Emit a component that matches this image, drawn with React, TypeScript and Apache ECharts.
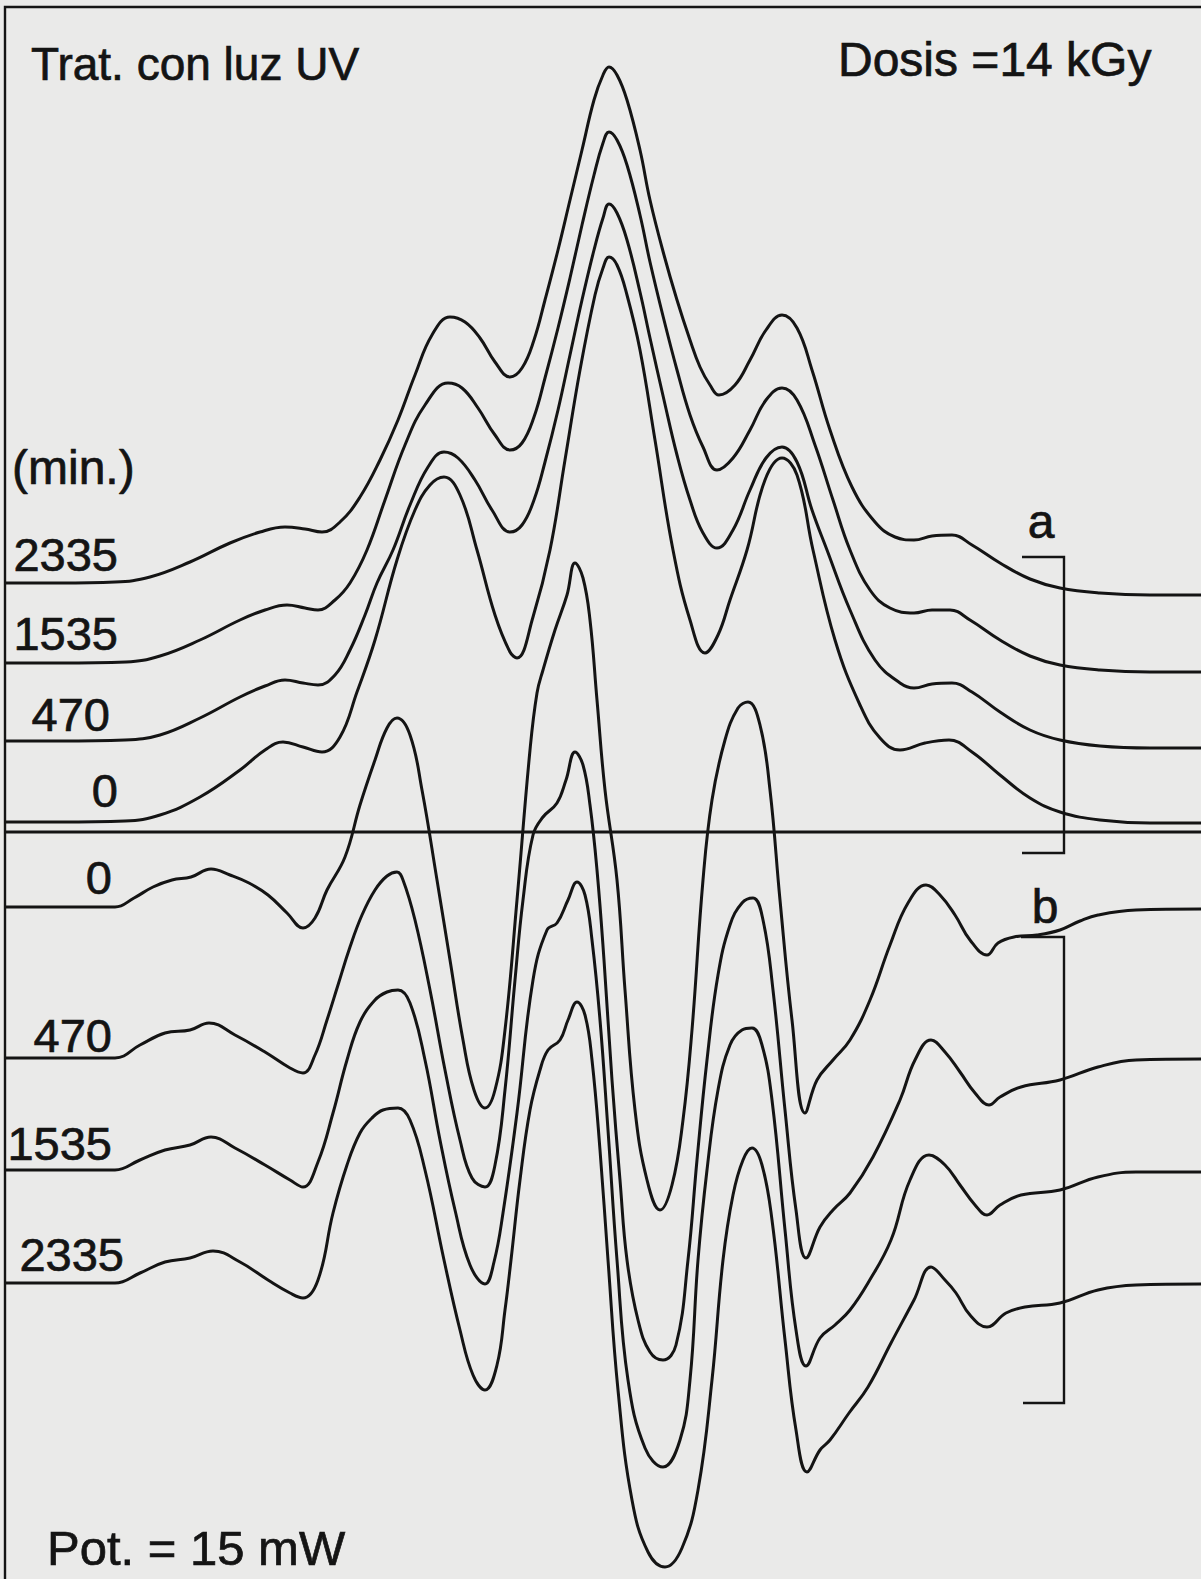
import React, { useEffect, useRef } from "react";
import * as echarts from "echarts";

type Pt = [number, number];

// Recorder traces: [field position, pen deflection] (deflection grows downwards)
// Spectra "a": UV treatment, exposure times in minutes
const specA_2335: Pt[] = [
  [5, 583], [60, 583], [115, 582], [150, 577], [190, 562], [230, 543], [260, 532], [285, 527], [305, 529], [322, 532],
  [340, 522], [360, 497], [380, 460], [398, 420], [415, 375], [432, 335], [450, 317], [465, 322], [480, 338], [495, 362],
  [510, 377], [522, 368], [534, 340], [545, 300], [558, 250], [570, 200], [582, 150], [594, 100], [603, 75], [609, 67],
  [617, 75], [627, 100], [640, 150], [650, 200], [664, 255], [677, 300], [690, 340], [700, 367], [710, 385], [719, 395],
  [735, 385], [750, 360], [766, 330], [782, 315], [797, 328], [812, 370], [830, 430], [852, 487], [875, 522], [895, 537],
  [914, 540], [932, 536], [952, 535], [972, 545], [1000, 563], [1030, 579], [1060, 588], [1100, 593], [1150, 595], [1201, 595],
];
const specA_1535: Pt[] = [
  [5, 663], [60, 663], [126, 662], [160, 656], [200, 640], [240, 620], [265, 610], [287, 605], [305, 608], [318, 610],
  [335, 600], [350, 583], [367, 550], [385, 500], [405, 445], [425, 405], [448, 383], [462, 388], [478, 408], [495, 435],
  [510, 450], [522, 443], [534, 417], [545, 378], [558, 328], [570, 278], [582, 225], [594, 175], [603, 143], [609, 132],
  [617, 140], [627, 165], [640, 215], [650, 262], [664, 320], [677, 370], [690, 415], [703, 447], [717, 470], [733, 458],
  [750, 430], [766, 400], [782, 388], [797, 400], [815, 445], [833, 500], [850, 550], [870, 590], [890, 608], [914, 613],
  [932, 610], [950, 610], [970, 620], [1000, 640], [1030, 656], [1060, 665], [1100, 670], [1150, 672], [1201, 672],
];
const specA_470: Pt[] = [
  [5, 741], [60, 741], [125, 740], [160, 735], [200, 718], [240, 697], [265, 686], [285, 680], [303, 683], [318, 685],
  [335, 675], [350, 650], [365, 615], [377, 583], [393, 550], [410, 505], [428, 467], [444, 452], [458, 458], [475, 480],
  [492, 510], [510, 532], [522, 525], [534, 500], [545, 462], [558, 410], [570, 355], [582, 300], [594, 250], [603, 218],
  [609, 204], [617, 213], [627, 240], [640, 292], [650, 338], [664, 400], [677, 455], [690, 500], [703, 533], [717, 548],
  [733, 530], [750, 490], [766, 458], [782, 447], [797, 462], [812, 510], [827, 550], [850, 610], [875, 660], [900, 683],
  [914, 688], [932, 684], [952, 683], [972, 692], [1000, 712], [1030, 730], [1060, 740], [1100, 746], [1150, 748], [1201, 748],
];
const specA_0: Pt[] = [
  [5, 822], [60, 822], [125, 821], [160, 815], [200, 797], [240, 770], [265, 750], [283, 742], [303, 747], [322, 752],
  [340, 737], [357, 692], [375, 640], [397, 560], [415, 510], [430, 485], [444, 477], [460, 495], [477, 550], [495, 615],
  [510, 652], [517, 658], [533, 617], [550, 550], [565, 460], [580, 370], [595, 295], [603, 268], [609, 257], [617, 265],
  [627, 295], [640, 350], [655, 440], [673, 550], [690, 620], [705, 653], [718, 635], [730, 600], [747, 550], [765, 480],
  [782, 458], [797, 475], [813, 550], [835, 640], [860, 705], [880, 738], [900, 750], [925, 743], [949, 740], [972, 752],
  [1000, 775], [1030, 798], [1060, 812], [1100, 820], [1150, 823], [1201, 823],
];

// Spectra "b"
const specB_0: Pt[] = [
  [5, 907], [60, 907], [115, 907], [134, 898], [153, 887], [172, 880], [191, 877], [211, 869], [230, 875], [249, 883],
  [268, 895], [287, 913], [303, 928], [315, 918], [327, 890], [345, 857], [360, 805], [375, 760], [387, 728], [397, 718],
  [410, 735], [422, 790], [437, 880], [450, 960], [463, 1040], [474, 1090], [485, 1108], [495, 1090], [505, 1030], [517, 900],
  [530, 750], [537, 693], [543, 670], [555, 630], [567, 595], [575, 563], [583, 578], [590, 620], [597, 700], [605, 790],
  [617, 880], [625, 990], [635, 1110], [647, 1180], [660, 1210], [672, 1185], [683, 1120], [692, 1030], [703, 880], [712, 800],
  [725, 740], [738, 708], [748, 702], [760, 725], [770, 790], [780, 900], [792, 1020], [805, 1113], [817, 1080], [833, 1060],
  [850, 1040], [870, 1000], [890, 945], [908, 903], [926, 885], [940, 895], [955, 915], [970, 940], [987, 955], [998, 943],
  [1014, 937], [1037, 935], [1060, 930], [1080, 921], [1098, 915], [1136, 910], [1201, 909],
];
const specB_470: Pt[] = [
  [5, 1058], [60, 1058], [115, 1058], [140, 1045], [165, 1033], [190, 1030], [209, 1023], [235, 1035], [265, 1052], [290, 1068],
  [303, 1073], [315, 1055], [327, 1020], [338, 985], [350, 947], [362, 915], [375, 890], [387, 876], [397, 872], [403, 880],
  [415, 920], [430, 990], [445, 1070], [460, 1140], [472, 1178], [485, 1187], [495, 1165], [505, 1090], [515, 980], [523, 900],
  [533, 835], [543, 817], [557, 803], [566, 780], [575, 752], [583, 765], [590, 805], [597, 870], [604, 960], [612, 1080],
  [620, 1180], [627, 1260], [638, 1320], [650, 1352], [663, 1360], [676, 1345], [688, 1260], [697, 1160], [707, 1060], [718, 975],
  [730, 925], [742, 903], [753, 898], [763, 920], [773, 990], [785, 1110], [796, 1210], [806, 1258], [820, 1227], [833, 1210],
  [850, 1193], [873, 1157], [900, 1100], [915, 1060], [931, 1040], [945, 1052], [960, 1072], [975, 1093], [989, 1105], [1000, 1097],
  [1021, 1087], [1060, 1080], [1098, 1067], [1136, 1060], [1201, 1059],
];
const specB_1535: Pt[] = [
  [5, 1170], [60, 1170], [115, 1170], [140, 1160], [165, 1150], [190, 1145], [211, 1137], [235, 1148], [265, 1165], [290, 1180],
  [303, 1187], [318, 1162], [333, 1113], [347, 1060], [360, 1022], [375, 1000], [387, 992], [398, 990], [410, 1003], [425, 1060],
  [440, 1140], [455, 1210], [470, 1265], [485, 1284], [494, 1262], [503, 1213], [517, 1113], [533, 980], [547, 930], [557, 923],
  [568, 900], [577, 882], [585, 895], [592, 940], [600, 1020], [608, 1130], [617, 1260], [628, 1380], [645, 1448], [663, 1467],
  [680, 1440], [690, 1380], [698, 1260], [707, 1170], [718, 1090], [730, 1045], [742, 1030], [752, 1028], [762, 1045], [772, 1100],
  [785, 1230], [796, 1330], [806, 1366], [820, 1338], [835, 1325], [850, 1310], [868, 1283], [891, 1240], [910, 1180], [929, 1155],
  [945, 1165], [960, 1185], [975, 1205], [987, 1215], [1000, 1205], [1021, 1195], [1060, 1190], [1098, 1177], [1136, 1172], [1201, 1172],
];
const specB_2335: Pt[] = [
  [5, 1283], [60, 1283], [115, 1283], [140, 1273], [165, 1262], [190, 1258], [213, 1251], [240, 1262], [268, 1280], [290, 1293],
  [303, 1298], [318, 1280], [333, 1213], [347, 1165], [360, 1133], [372, 1118], [383, 1110], [398, 1108], [410, 1120], [425, 1170],
  [444, 1260], [460, 1330], [473, 1375], [485, 1390], [497, 1365], [505, 1310], [511, 1260], [520, 1180], [530, 1110], [540, 1070],
  [548, 1050], [560, 1040], [568, 1020], [577, 1002], [585, 1015], [592, 1060], [600, 1150], [608, 1260], [618, 1390], [632, 1500],
  [648, 1552], [665, 1567], [682, 1548], [698, 1490], [712, 1380], [723, 1260], [733, 1195], [743, 1160], [752, 1148], [762, 1165],
  [772, 1220], [785, 1340], [796, 1430], [807, 1472], [820, 1450], [830, 1440], [849, 1413], [868, 1387], [891, 1343], [914, 1300],
  [931, 1267], [945, 1280], [956, 1293], [970, 1315], [987, 1327], [1006, 1313], [1025, 1307], [1060, 1303], [1098, 1290], [1136, 1285],
  [1201, 1284],
];

// Exposure-time labels (minutes), top to bottom
const timesA = ["2335", "1535", "470", "0"];
const timesB = ["0", "470", "1535", "2335"];

const titleLeft = "Trat. con luz UV";
const titleRight = "Dosis =14 kGy";
const unitLabel = "(min.)";
const powerLabel = "Pot. = 15 mW";

const W = 1201;
const H = 1579;
const INK = "#141414";
const PAPER = "#eaeae9";
const FONT = '"Liberation Sans", Arial, Helvetica, sans-serif';

// label anchors (right edge x, vertical middle y)
const timesAPos: Pt[] = [[118, 554], [118, 633], [110, 714], [118, 790]];
const timesBPos: Pt[] = [[112, 877], [112, 1035], [112, 1143], [124, 1254]];

function txt(text: string, x: number, y: number, align: "left" | "right" | "center", size = 47) {
  return {
    type: "text",
    silent: true,
    z: 10,
    style: {
      text,
      x,
      y,
      fill: INK,
      stroke: INK,
      lineWidth: 0.7,
      fontSize: size,
      fontFamily: FONT,
      textAlign: align,
      textVerticalAlign: "middle",
    },
  };
}

function seg(points: Pt[], width = 2) {
  return {
    type: "polyline",
    silent: true,
    z: 5,
    shape: { points },
    style: { stroke: INK, lineWidth: width, fill: "none" },
  };
}

export default function App() {
  const ref = useRef<HTMLDivElement>(null);

  useEffect(() => {
    if (!ref.current) return;
    const chart = echarts.init(ref.current, undefined, { renderer: "svg" });

    const traces = [specA_2335, specA_1535, specA_470, specA_0, specB_0, specB_470, specB_1535, specB_2335];
    const names = [...timesA.map((t) => "a " + t), ...timesB.map((t) => "b " + t)];

    const graphic: any[] = [
      // frame edges and the divider between the two spectra sets
      seg([[5, H], [5, 7], [W, 7]], 2.4),
      seg([[5, 832], [W, 832]], 2.8),
      // brackets
      seg([[1022, 557], [1064, 557], [1064, 853], [1022, 853]], 2.4),
      seg([[1021, 937], [1064, 937], [1064, 1403], [1023, 1403]], 2.4),
      txt(titleLeft, 31, 64, "left", 46),
      txt(titleRight, 838, 59, "left", 48),
      txt(unitLabel, 12, 467, "left", 48),
      txt(powerLabel, 47, 1548, "left", 49),
      txt("a", 1041, 521, "center", 48),
      txt("b", 1045, 906, "center", 48),
      ...timesA.map((t, i) => txt(t, timesAPos[i][0], timesAPos[i][1], "right")),
      ...timesB.map((t, i) => txt(t, timesBPos[i][0], timesBPos[i][1], "right")),
    ];

    chart.setOption({
      animation: false,
      backgroundColor: PAPER,
      grid: { left: 0, right: 0, top: 0, bottom: 0, containLabel: false },
      xAxis: { type: "value", min: 0, max: W, show: false },
      yAxis: { type: "value", min: 0, max: H, inverse: true, show: false },
      series: traces.map((data, i) => ({
        name: names[i],
        type: "line",
        data,
        showSymbol: false,
        symbol: "none",
        smooth: 0.42,
        silent: true,
        clip: false,
        lineStyle: { color: INK, width: 3 },
      })),
      graphic,
    });

    return () => chart.dispose();
  }, []);

  return (
    <div
      ref={ref}
      style={{ position: "fixed", left: 0, top: 0, width: W, height: H, background: PAPER }}
    />
  );
}
